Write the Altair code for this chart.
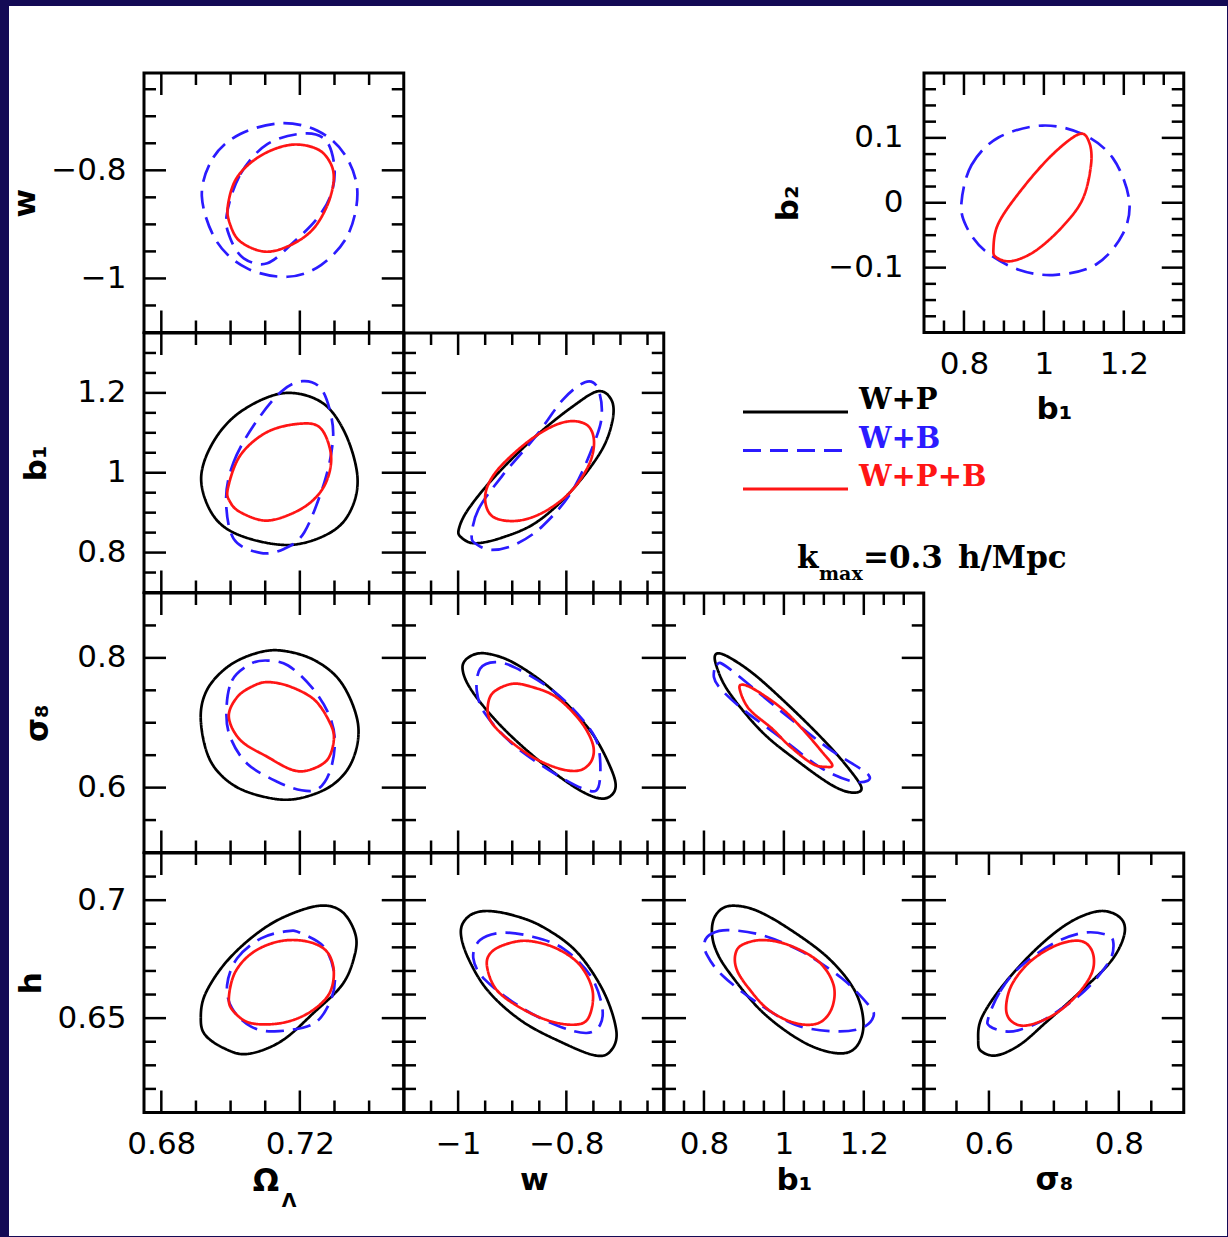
import altair as alt
import pandas as pd

# ---------------- styling constants ----------------
NAVY = "#140a55"
FONT = "DejaVu Sans"
SERIF = "DejaVu Serif"
W, H = 259.75, 259.5          # size of one panel (plot area)
MAJ_LEN, MIN_LEN = 22, 12     # inward tick lengths

# ---------------- series ----------------
SERIES = ["W+P", "W+B", "W+P+B"]
SERIES_COLORS = ["#000000", "#2b1bff", "#ff1515"]
SERIES_DASH = [[1, 0], [18, 9], [1, 0]]

# ---------------- axis ranges / ticks ----------------
OML_DOMAIN = [0.675, 0.75]
OML_MAJOR = [0.68, 0.72]
OML_MINOR = [0.69, 0.70, 0.71, 0.73, 0.74]
W_DOMAIN = [-1.1, -0.62]
W_MAJOR = [-1.0, -0.8]
W_MINOR = [-1.05, -0.95, -0.9, -0.85, -0.75, -0.7, -0.65]
B1_DOMAIN = [0.7, 1.35]
B1_MAJOR = [0.8, 1.0, 1.2]
B1_MINOR = [0.75, 0.85, 0.9, 0.95, 1.05, 1.1, 1.15, 1.25, 1.3]
S8_DOMAIN = [0.5, 0.9]
S8_MAJOR = [0.6, 0.8]
S8_MINOR = [0.55, 0.65, 0.7, 0.75, 0.85]
H_DOMAIN = [0.61, 0.72]
H_MAJOR = [0.65, 0.7]
H_MINOR = [0.62, 0.63, 0.64, 0.66, 0.67, 0.68, 0.69, 0.71]
B2_DOMAIN = [-0.2, 0.2]
B2_MAJOR = [-0.1, 0.0, 0.1]
B2_MINOR = [-0.175, -0.15, -0.125, -0.075, -0.05, -0.025,
            0.025, 0.05, 0.075, 0.125, 0.15, 0.175]

# ---------------- contours (x, y) ----------------
# Omega_Lambda - w
OML_W_BLUE_OUTER = [(0.6917, -0.8478), (0.6950, -0.7764), (0.7028, -0.7329), (0.7145, -0.7130),
                    (0.7251, -0.7267), (0.7329, -0.7702), (0.7366, -0.8385), (0.7339, -0.9193),
                    (0.7261, -0.9752), (0.7164, -0.9969), (0.7048, -0.9814), (0.6960, -0.9317)]
OML_W_BLUE_INNER = [(0.6989, -0.8820), (0.7028, -0.8075), (0.7106, -0.7516), (0.7213, -0.7317),
                    (0.7276, -0.7453), (0.7300, -0.7950), (0.7290, -0.8447), (0.7251, -0.8882),
                    (0.7184, -0.9317), (0.7106, -0.9720), (0.7038, -0.9627), (0.6999, -0.9255)]
OML_W_RED = [(0.6992, -0.8665), (0.7018, -0.8137), (0.7086, -0.7733), (0.7174, -0.7528),
             (0.7251, -0.7609), (0.7290, -0.7888), (0.7297, -0.8230), (0.7276, -0.8696),
             (0.7232, -0.9130), (0.7164, -0.9410), (0.7096, -0.9503), (0.7028, -0.9317),
             (0.6999, -0.9006)]
# Omega_Lambda - b1
OML_B1_BLACK = [(0.6915, 0.9849), (0.6950, 1.0770), (0.7028, 1.1523), (0.7150, 1.1990),
                (0.7261, 1.1774), (0.7329, 1.1021), (0.7366, 0.9933),
                (0.7349, 0.9096), (0.7290, 0.8510), (0.7170, 0.8190),
                (0.7028, 0.8427), (0.6950, 0.8929)]
OML_B1_BLUE = [(0.6987, 0.9347), (0.7009, 1.0268), (0.7067, 1.1188), (0.7145, 1.2025),
               (0.7208, 1.2293), (0.7261, 1.2109), (0.7290, 1.1439), (0.7295, 1.0770),
               (0.7271, 0.9766), (0.7213, 0.8510), (0.7154, 0.8092), (0.7086, 0.7992),
               (0.7009, 0.8343)]
OML_B1_RED = [(0.6992, 0.9598), (0.7028, 1.0435), (0.7106, 1.1021), (0.7203, 1.1230),
              (0.7261, 1.1105), (0.7290, 1.0435), (0.7276, 0.9766), (0.7232, 0.9264),
              (0.7164, 0.8929), (0.7096, 0.8803), (0.7028, 0.9013), (0.6999, 0.9264)]
# w - b1
W_B1_BLACK = [(-0.9988, 0.8583), (-0.9813, 0.9083), (-0.9313, 0.9917), (-0.8563, 1.0917),
              (-0.7875, 1.1667), (-0.7406, 1.2042), (-0.7156, 1.1792), (-0.7156, 1.1250),
              (-0.7375, 1.0500), (-0.7938, 0.9500), (-0.8563, 0.8750), (-0.9188, 0.8375),
              (-0.9688, 0.8233), (-0.9938, 0.8375)]
W_B1_BLUE = [(-0.9750, 0.8417), (-0.9625, 0.9083), (-0.9188, 0.9917), (-0.8563, 1.0917),
             (-0.8063, 1.1833), (-0.7656, 1.2267), (-0.7438, 1.2167), (-0.7344, 1.1583),
             (-0.7438, 1.0917), (-0.7875, 0.9583), (-0.8438, 0.8667), (-0.8938, 0.8208),
             (-0.9375, 0.8067), (-0.9656, 0.8208)]
W_B1_RED = [(-0.9500, 0.9417), (-0.9313, 1.0000), (-0.8813, 1.0667), (-0.8313, 1.1125),
            (-0.7906, 1.1292), (-0.7594, 1.1167), (-0.7488, 1.0750), (-0.7594, 1.0167),
            (-0.7938, 0.9500), (-0.8438, 0.9000), (-0.8938, 0.8792), (-0.9375, 0.8917)]
# Omega_Lambda - sigma8
OML_S8_BLACK = [(0.6914, 0.7036), (0.6931, 0.7497), (0.6990, 0.7856), (0.7068, 0.8062),
                (0.7146, 0.8113), (0.7244, 0.7959), (0.7322, 0.7600), (0.7368, 0.6980),
                (0.7352, 0.6421), (0.7293, 0.6036), (0.7195, 0.5831),
                (0.7107, 0.5846), (0.7009, 0.6036), (0.6941, 0.6421)]
OML_S8_BLUE = [(0.6988, 0.7190), (0.7004, 0.7651), (0.7058, 0.7908), (0.7107, 0.7959),
               (0.7166, 0.7882), (0.7234, 0.7549), (0.7283, 0.7138), (0.7301, 0.6728),
               (0.7288, 0.6267), (0.7254, 0.5985), (0.7205, 0.5959), (0.7136, 0.6087),
               (0.7048, 0.6369), (0.6999, 0.6779)]
OML_S8_RED = [(0.6995, 0.7087), (0.7019, 0.7395), (0.7068, 0.7574), (0.7112, 0.7626),
              (0.7176, 0.7549), (0.7244, 0.7344), (0.7288, 0.6985), (0.7298, 0.6728),
              (0.7278, 0.6421), (0.7224, 0.6267), (0.7176, 0.6277), (0.7107, 0.6472),
              (0.7029, 0.6728)]
# w - sigma8
W_S8_BLACK = [(-0.9919, 0.7856), (-0.9750, 0.8036), (-0.9438, 0.8062), (-0.8938, 0.7908),
              (-0.8250, 0.7497), (-0.7563, 0.6882), (-0.7188, 0.6318), (-0.7094, 0.5985),
              (-0.7313, 0.5831), (-0.7750, 0.5959), (-0.8438, 0.6369), (-0.9188, 0.6933),
              (-0.9750, 0.7497)]
W_S8_BLUE = [(-0.9656, 0.7497), (-0.9594, 0.7831), (-0.9313, 0.7933), (-0.8938, 0.7846),
             (-0.8250, 0.7497), (-0.7688, 0.7036), (-0.7406, 0.6626), (-0.7406, 0.6010),
             (-0.7688, 0.5985), (-0.8313, 0.6267), (-0.9000, 0.6677), (-0.9500, 0.7138)]
W_S8_RED = [(-0.9450, 0.7267), (-0.9344, 0.7472), (-0.9000, 0.7600), (-0.8625, 0.7549),
            (-0.8188, 0.7395), (-0.7750, 0.7036), (-0.7513, 0.6677), (-0.7531, 0.6421),
            (-0.7750, 0.6267), (-0.8125, 0.6292), (-0.8625, 0.6472), (-0.9125, 0.6779),
            (-0.9406, 0.7036)]
# b1 - sigma8
B1_S8_BLACK = [(0.8308, 0.8062), (0.8625, 0.8010), (0.9292, 0.7728), (1.0208, 0.7215),
               (1.1042, 0.6703), (1.1625, 0.6292), (1.1942, 0.5995), (1.1708, 0.5923),
               (1.1208, 0.6036), (1.0375, 0.6395), (0.9458, 0.6856), (0.8625, 0.7472),
               (0.8308, 0.7882)]
B1_S8_BLUE = [(0.8250, 0.7700), (0.8320, 0.7890), (0.8600, 0.7850), (0.9958, 0.7164),
              (1.1125, 0.6600), (1.2125, 0.6190), (1.1792, 0.6087), (1.0958, 0.6292),
              (0.9958, 0.6754), (0.8958, 0.7215), (0.8417, 0.7523)]
B1_S8_RED = [(0.8892, 0.7523), (0.9000, 0.7585), (0.9375, 0.7472), (0.9958, 0.7215),
             (1.0458, 0.6908), (1.0958, 0.6549), (1.1208, 0.6354), (1.1083, 0.6318),
             (1.0708, 0.6369), (1.0125, 0.6651), (0.9708, 0.6908), (0.9125, 0.7215)]
# Omega_Lambda - h
OML_H_BLACK = [(0.6914, 0.6500), (0.6926, 0.6599), (0.6980, 0.6725), (0.7058, 0.6838),
               (0.7146, 0.6923), (0.7254, 0.6976), (0.7322, 0.6951), (0.7361, 0.6852),
               (0.7356, 0.6754), (0.7322, 0.6641), (0.7244, 0.6528), (0.7146, 0.6402),
               (0.7048, 0.6348), (0.6980, 0.6373), (0.6926, 0.6430)]
OML_H_BLUE = [(0.6990, 0.6641), (0.7019, 0.6754), (0.7088, 0.6838), (0.7166, 0.6869),
              (0.7205, 0.6859), (0.7273, 0.6796), (0.7301, 0.6669), (0.7283, 0.6556),
              (0.7234, 0.6472), (0.7127, 0.6444), (0.7058, 0.6465), (0.7004, 0.6542)]
OML_H_RED = [(0.6995, 0.6585), (0.7014, 0.6697), (0.7068, 0.6782), (0.7146, 0.6827),
             (0.7224, 0.6824), (0.7278, 0.6782), (0.7298, 0.6697), (0.7283, 0.6599),
             (0.7224, 0.6521), (0.7146, 0.6479), (0.7058, 0.6479), (0.7009, 0.6528)]
# w - h
W_H_BLACK = [(-0.9950, 0.6866), (-0.9813, 0.6930), (-0.9500, 0.6954), (-0.9000, 0.6937),
             (-0.8438, 0.6887), (-0.7813, 0.6782), (-0.7313, 0.6613), (-0.7075, 0.6444),
             (-0.7188, 0.6359), (-0.7469, 0.6342), (-0.8063, 0.6395), (-0.8813, 0.6486),
             (-0.9438, 0.6613), (-0.9813, 0.6754)]
W_H_BLUE = [(-0.9719, 0.6754), (-0.9594, 0.6831), (-0.9188, 0.6862), (-0.8625, 0.6845),
            (-0.8063, 0.6796), (-0.7563, 0.6683), (-0.7344, 0.6556), (-0.7375, 0.6472),
            (-0.7625, 0.6437), (-0.8125, 0.6465), (-0.8813, 0.6542), (-0.9500, 0.6662)]
W_H_RED = [(-0.9469, 0.6725), (-0.9375, 0.6782), (-0.9063, 0.6817), (-0.8688, 0.6827),
           (-0.8188, 0.6796), (-0.7750, 0.6725), (-0.7513, 0.6613), (-0.7594, 0.6500),
           (-0.7875, 0.6472), (-0.8375, 0.6493), (-0.8938, 0.6556), (-0.9313, 0.6627)]
# b1 - h
B1_H_BLACK = [(0.8200, 0.6880), (0.8325, 0.6944), (0.8658, 0.6976), (0.9283, 0.6958),
              (1.0117, 0.6880), (1.1117, 0.6754), (1.1783, 0.6613), (1.1992, 0.6472),
              (1.1783, 0.6373), (1.1283, 0.6352), (1.0450, 0.6402), (0.9450, 0.6528),
              (0.8617, 0.6697), (0.8283, 0.6796)]
B1_H_BLUE = [(0.8017, 0.6824), (0.8200, 0.6859), (0.8617, 0.6873), (0.9450, 0.6852),
             (1.0450, 0.6782), (1.1450, 0.6669), (1.2117, 0.6556), (1.2242, 0.6507),
             (1.1950, 0.6458), (1.1283, 0.6444), (1.0283, 0.6472), (0.9283, 0.6571),
             (0.8450, 0.6683), (0.8075, 0.6768)]
B1_H_RED = [(0.8783, 0.6768), (0.8950, 0.6810), (0.9450, 0.6831), (1.0117, 0.6810),
            (1.0867, 0.6740), (1.1242, 0.6641), (1.1200, 0.6542), (1.0867, 0.6479),
            (1.0283, 0.6479), (0.9617, 0.6535), (0.9117, 0.6627), (0.8825, 0.6704)]
# sigma8 - h
S8_H_BLACK = [(0.5835, 0.6402), (0.5886, 0.6500), (0.6222, 0.6641), (0.6739, 0.6796),
              (0.7256, 0.6908), (0.7721, 0.6954), (0.8031, 0.6923), (0.8083, 0.6852),
              (0.7876, 0.6740), (0.7411, 0.6613), (0.6894, 0.6486), (0.6481, 0.6388),
              (0.6119, 0.6342), (0.5886, 0.6359)]
S8_H_BLUE = [(0.5990, 0.6500), (0.6171, 0.6613), (0.6481, 0.6718), (0.6997, 0.6817),
             (0.7463, 0.6862), (0.7824, 0.6852), (0.7917, 0.6817), (0.7850, 0.6740),
             (0.7463, 0.6613), (0.6894, 0.6500), (0.6481, 0.6451), (0.6248, 0.6444),
             (0.6016, 0.6465)]
S8_H_RED = [(0.6264, 0.6542), (0.6351, 0.6641), (0.6636, 0.6740), (0.7049, 0.6810),
            (0.7411, 0.6827), (0.7592, 0.6782), (0.7592, 0.6697), (0.7359, 0.6599),
            (0.6997, 0.6514), (0.6584, 0.6469), (0.6351, 0.6486)]
# b1 - b2 (inset)
B1_B2_BLUE = [(0.7937, 0.0000), (0.8189, 0.0582), (0.8863, 0.1005), (0.9958, 0.1190),
              (1.0968, 0.1058), (1.1726, 0.0688), (1.2131, 0.0053), (1.1979, -0.0476),
              (1.1305, -0.0952), (1.0295, -0.1111), (0.9368, -0.1032), (0.8526, -0.0741),
              (0.8063, -0.0370)]
B1_B2_RED = [(0.8737, -0.0714), (0.8863, -0.0317), (0.9453, 0.0212), (1.0211, 0.0741),
             (1.0884, 0.1058), (1.1137, 0.0926), (1.1179, 0.0582), (1.0968, 0.0053),
             (1.0463, -0.0370), (0.9789, -0.0741), (0.9200, -0.0899), (0.8821, -0.0847)]

# ---------------- text ----------------
LEGEND_ROWS = [0, 1, 2]
KMAX_PARTS = ["k", "max", "=0.3", "h/Mpc"]
OMEGA_PARTS = ["Ω", "Λ"]

AXES = {
    "OmL": dict(domain=OML_DOMAIN, major=OML_MAJOR, minor=OML_MINOR, fmt=".2f", title=None, tx=-113),
    "w": dict(domain=W_DOMAIN, major=W_MAJOR, minor=W_MINOR, fmt="~g", title="w", tx=-119),
    "b1": dict(domain=B1_DOMAIN, major=B1_MAJOR, minor=B1_MINOR, fmt="~g", title="b₁", tx=-108),
    "s8": dict(domain=S8_DOMAIN, major=S8_MAJOR, minor=S8_MINOR, fmt="~g", title="σ₈", tx=-106),
    "h": dict(domain=H_DOMAIN, major=H_MAJOR, minor=H_MINOR, fmt="~g", title="h", tx=-113),
    "b2": dict(domain=B2_DOMAIN, major=B2_MAJOR, minor=B2_MINOR, fmt="~g", title="b₂", tx=-136),
}

ONE = pd.DataFrame({"a": [0]})
COLOR_SCALE = alt.Scale(domain=SERIES, range=SERIES_COLORS)
DASH_SCALE = alt.Scale(domain=SERIES, range=SERIES_DASH)


def sc(p):
    return alt.Scale(domain=AXES[p]["domain"], nice=False, zero=False)


def x_axis(p, title_y=77, z=0):
    a = AXES[p]
    return alt.Axis(values=a["major"], format=a["fmt"], ticks=False, tickSize=0, domain=False,
                    grid=False, labelPadding=17, labelFlush=False, labelOverlap=False,
                    title=a["title"], titleX=W / 2, titleY=title_y, titleAlign="center",
                    titleBaseline="alphabetic", titleAngle=0, zindex=z)


def y_axis(p, pad=18, z=0):
    a = AXES[p]
    return alt.Axis(values=a["major"], format=a["fmt"], ticks=False, tickSize=0, domain=False,
                    grid=False, labelPadding=pad, labelFlush=False, labelOverlap=False,
                    title=a["title"], titleX=a["tx"], titleY=H / 2, titleAlign="center",
                    titleBaseline="middle", titleAngle=270, zindex=z)


def panel(xp, yp, contours, xlab=False, ylab=False, pre=None, extra=None,
          x_title_y=77, y_pad=18, z=0):
    xs, ys = sc(xp), sc(yp)
    xa = x_axis(xp, x_title_y, z) if xlab else None
    ya = y_axis(yp, y_pad, z) if ylab else None
    rows = []
    for cid, (series, pts) in enumerate(contours):
        for i, (x, y) in enumerate(pts):
            rows.append(dict(x=x, y=y, series=series, cid=cid, i=i))
    df = pd.DataFrame(rows)
    layers = list(pre or [])
    for s in SERIES:
        sub = df[df["series"] == s]
        if len(sub) == 0:
            continue
        layers.append(
            alt.Chart(sub).mark_line(interpolate="cardinal-closed", strokeWidth=2.7, clip=True)
            .encode(x=alt.X("x:Q", scale=xs, axis=xa), y=alt.Y("y:Q", scale=ys, axis=ya),
                    color=alt.Color("series:N", scale=COLOR_SCALE, legend=None),
                    strokeDash=alt.StrokeDash("series:N", scale=DASH_SCALE, legend=None),
                    detail="cid:N", order="i:Q"))
    for vals, L in ((AXES[xp]["major"], MAJ_LEN), (AXES[xp]["minor"], MIN_LEN)):
        tdf = pd.DataFrame({"v": vals})
        for y0, y1 in ((H, H - L), (0, L)):
            layers.append(alt.Chart(tdf).mark_rule(color="black", strokeWidth=2.5).encode(
                x=alt.X("v:Q", scale=xs, axis=xa), y=alt.value(y0), y2=alt.value(y1)))
    for vals, L in ((AXES[yp]["major"], MAJ_LEN), (AXES[yp]["minor"], MIN_LEN)):
        tdf = pd.DataFrame({"v": vals})
        for x0, x1 in ((0, L), (W, W - L)):
            layers.append(alt.Chart(tdf).mark_rule(color="black", strokeWidth=2.5).encode(
                y=alt.Y("v:Q", scale=ys, axis=ya), x=alt.value(x0), x2=alt.value(x1)))
    layers.append(alt.Chart(ONE).mark_rect(filled=False, color="black", strokeWidth=3).encode(
        x=alt.value(0), x2=alt.value(W), y=alt.value(0), y2=alt.value(H)))
    layers += list(extra or [])
    return alt.layer(*layers).properties(width=W, height=H)


def empty():
    return alt.Chart(ONE).mark_point(opacity=0).encode(
        x=alt.X("a:Q", axis=None), y=alt.Y("a:Q", axis=None)).properties(width=W, height=H)


def txt(s, x, y, size, font=FONT, weight="normal", align="left", baseline="alphabetic", color="black"):
    return alt.Chart(ONE).mark_text(text=s, font=font, fontSize=size, fontWeight=weight,
                                    align=align, baseline=baseline, color=color).encode(
        x=alt.value(x), y=alt.value(y))


# page background (white area inside the dark frame)
bg = alt.Chart(ONE).mark_rect(color="white").encode(
    x=alt.value(-135), x2=alt.value(1083), y=alt.value(-67), y2=alt.value(1163))

p00 = panel("OmL", "w", [("W+B", OML_W_BLUE_OUTER), ("W+B", OML_W_BLUE_INNER), ("W+P+B", OML_W_RED)],
            ylab=True, pre=[bg], z=1)
pb2 = panel("b1", "b2", [("W+B", B1_B2_BLUE), ("W+P+B", B1_B2_RED)],
            xlab=True, ylab=True, x_title_y=86, y_pad=21)

p10 = panel("OmL", "b1", [("W+P", OML_B1_BLACK), ("W+B", OML_B1_BLUE), ("W+P+B", OML_B1_RED)], ylab=True)
p11 = panel("w", "b1", [("W+P", W_B1_BLACK), ("W+B", W_B1_BLUE), ("W+P+B", W_B1_RED)])

# legend + k_max annotation cell
leg_df = pd.DataFrame({"series": SERIES, "row": LEGEND_ROWS})
leg_y = alt.Y("row:Q", scale=alt.Scale(domain=[0, 2], range=[79, 156]), axis=None)
leg_lines = alt.Chart(leg_df).mark_rule(strokeWidth=3).encode(
    x=alt.value(79), x2=alt.value(184), y=leg_y,
    color=alt.Color("series:N", scale=COLOR_SCALE, legend=None),
    strokeDash=alt.StrokeDash("series:N", scale=DASH_SCALE, legend=None))
leg_text = alt.Chart(leg_df).mark_text(font=SERIF, fontSize=29, fontWeight="bold", align="left",
                                       baseline="middle", dy=-12).encode(
    x=alt.value(195), y=leg_y, text="series:N",
    color=alt.Color("series:N", scale=COLOR_SCALE, legend=None))
legend_cell = alt.layer(
    leg_lines, leg_text,
    txt(KMAX_PARTS[0], 133, 235, 31, font=SERIF, weight="bold"),
    txt(KMAX_PARTS[1], 155, 247, 19, font=SERIF, weight="bold"),
    txt(KMAX_PARTS[2], 199, 235, 31, font=SERIF, weight="bold"),
    txt(KMAX_PARTS[3], 294, 235, 31, font=SERIF, weight="bold"),
).properties(width=W, height=H)

p20 = panel("OmL", "s8", [("W+P", OML_S8_BLACK), ("W+B", OML_S8_BLUE), ("W+P+B", OML_S8_RED)], ylab=True)
p21 = panel("w", "s8", [("W+P", W_S8_BLACK), ("W+B", W_S8_BLUE), ("W+P+B", W_S8_RED)])
p22 = panel("b1", "s8", [("W+P", B1_S8_BLACK), ("W+B", B1_S8_BLUE), ("W+P+B", B1_S8_RED)])

omega_title = [txt(OMEGA_PARTS[0], 122, H + 78, 31, weight="bold", align="center"),
               txt(OMEGA_PARTS[1], 145, H + 94, 19, weight="bold", align="center")]
p30 = panel("OmL", "h", [("W+P", OML_H_BLACK), ("W+B", OML_H_BLUE), ("W+P+B", OML_H_RED)],
            xlab=True, ylab=True, extra=omega_title)
p31 = panel("w", "h", [("W+P", W_H_BLACK), ("W+B", W_H_BLUE), ("W+P+B", W_H_RED)], xlab=True)
p32 = panel("b1", "h", [("W+P", B1_H_BLACK), ("W+B", B1_H_BLUE), ("W+P+B", B1_H_RED)], xlab=True)
p33 = panel("s8", "h", [("W+P", S8_H_BLACK), ("W+B", S8_H_BLUE), ("W+P+B", S8_H_RED)], xlab=True)

cells = [p00, empty(), empty(), pb2,
         p10, p11, legend_cell, empty(),
         p20, p21, p22, empty(),
         p30, p31, p32, p33]

chart = alt.concat(*cells, columns=4, spacing=0, bounds="flush").properties(
    padding={"left": 8, "top": 5, "right": 0, "bottom": 0},
    background=NAVY,
).configure_view(stroke="transparent").configure_axis(
    labelFont=FONT, labelFontSize=31, labelColor="black",
    titleFont=FONT, titleFontSize=31, titleFontWeight="bold", titleColor="black",
)

chart.save("out.html", embed_options={"renderer": "svg", "actions": False})
